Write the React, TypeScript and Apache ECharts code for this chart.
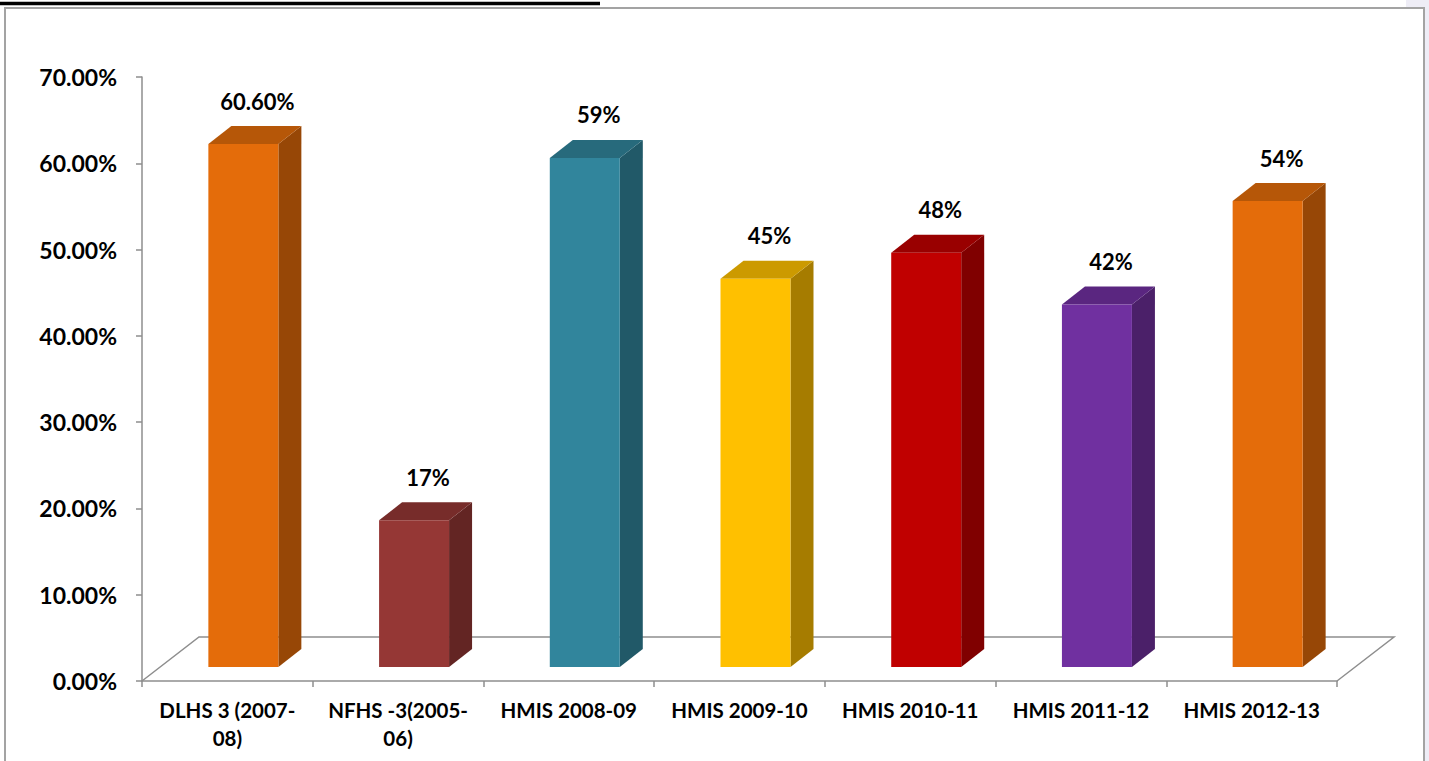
import React, { useEffect, useRef } from "react";
import * as echarts from "echarts";

const categories = [
  "DLHS 3 (2007-08)",
  "NFHS -3(2005-06)",
  "HMIS 2008-09",
  "HMIS 2009-10",
  "HMIS 2010-11",
  "HMIS 2011-12",
  "HMIS 2012-13",
];
const values = [60.6, 17, 59, 45, 48, 42, 54];
const valueLabels = ["60.60%", "17%", "59%", "45%", "48%", "42%", "54%"];
const yTicks = { min: 0, max: 70, interval: 10 };

const frontColors = ["#E46C0A", "#953735", "#31859C", "#FFC000", "#C00000", "#7030A0", "#E46C0A"];
const topColors = ["#B65708", "#772C2A", "#276A7C", "#CC9A00", "#990000", "#5A2680", "#B65708"];
const sideColors = ["#974706", "#632523", "#215968", "#A67C00", "#800000", "#4B2069", "#974706"];

const FONT = "Lato, 'Open Sans', sans-serif";
const GRAY = "#8E8E8E";

export default function App() {
  const ref = useRef<HTMLDivElement>(null);
  useEffect(() => {
    if (!ref.current) return;
    const chart = echarts.init(ref.current, null, { renderer: "svg" });

    const barData = values.map((v, i) => [i, v]);

    const option: any = {
      animation: false,
      backgroundColor: "#ffffff",
      grid: { left: 142, top: 77, width: 1195, height: 604, containLabel: false },
      xAxis: {
        type: "category",
        data: categories,
        boundaryGap: true,
        axisLine: { show: true, lineStyle: { color: GRAY, width: 1.5 } },
        axisTick: { show: true, length: 6, lineStyle: { color: GRAY, width: 1.5 } },
        axisLabel: {
          margin: 15,
          fontFamily: FONT,
          fontWeight: "bold",
          fontSize: 20.5,
          color: "#000",
          lineHeight: 28,
          interval: 0,
          formatter: (v: string) => (v.length > 14 ? v.replace(/(\(\d{4}-)/, "$1\n") : v),
        },
        splitLine: { show: false },
      },
      yAxis: {
        type: "value",
        min: yTicks.min,
        max: yTicks.max,
        interval: yTicks.interval,
        axisLine: { show: true, lineStyle: { color: GRAY, width: 1.5 } },
        axisTick: { show: true, length: 6, lineStyle: { color: GRAY, width: 1.5 } },
        splitLine: { show: false },
        axisLabel: {
          margin: 25,
          fontFamily: FONT,
          fontWeight: "bold",
          fontSize: 23,
          color: "#000",
          formatter: (v: number) => v.toFixed(2) + "%",
        },
      },
      graphic: [
        { type: "rect", shape: { x: 1406, y: 0, width: 23, height: 761 }, style: { fill: "#EEEDF6" }, z: -10 },
        { type: "line", shape: { x1: 0, y1: 3.5, x2: 600, y2: 3.5 }, style: { stroke: "#000", lineWidth: 3.5 } },
        {
          type: "rect",
          shape: { x: 5, y: 8, width: 1419, height: 780 },
          style: { fill: "#ffffff", stroke: "#A3A3A3", lineWidth: 2 },
          z: -5,
        },
      ],
      series: [
        {
          type: "custom",
          z: 1,
          silent: true,
          clip: false,
          data: [[0, 0]],
          encode: { x: 0, y: 1 },
          renderItem: (params: any, api: any) => {
            const cs = params.coordSys;
            const x0 = cs.x;
            const x1 = cs.x + cs.width;
            const yb = cs.y + cs.height;
            const dx = 57;
            const dy = -44;
            return {
              type: "polyline",
              shape: {
                points: [
                  [x0, yb],
                  [x0 + dx, yb + dy],
                  [x1 + dx, yb + dy],
                  [x1, yb],
                ],
              },
              style: { stroke: GRAY, lineWidth: 1.5, fill: "none" },
            };
          },
        },
        {
          type: "custom",
          z: 5,
          clip: false,
          data: barData,
          encode: { x: 0, y: 1 },
          renderItem: (params: any, api: any) => {
            const idx = api.value(0);
            const v = api.value(1);
            const i = params.dataIndex;
            const base = api.coord([idx, 0]);
            const top = api.coord([idx, v]);
            const bandW = api.size([1, 0])[0];
            const bw = bandW * 0.41;
            const ox = 16;
            const oy = -14;
            const dx = 23;
            const dy = -18;
            const xl = base[0] + ox - bw / 2;
            const xr = xl + bw;
            const yb = base[1] + oy;
            const yt = top[1] + oy;
            return {
              type: "group",
              children: [
                {
                  type: "polygon",
                  shape: { points: [[xr, yt], [xr + dx, yt + dy], [xr + dx, yb + dy], [xr, yb]] },
                  style: { fill: sideColors[i] },
                },
                {
                  type: "polygon",
                  shape: { points: [[xl, yt], [xr, yt], [xr + dx, yt + dy], [xl + dx, yt + dy]] },
                  style: { fill: topColors[i] },
                },
                {
                  type: "rect",
                  shape: { x: xl, y: yt, width: bw, height: yb - yt },
                  style: { fill: frontColors[i] },
                },
                {
                  type: "text",
                  x: xl + bw / 2 + 14,
                  y: yt + dy - 25,
                  style: {
                    text: valueLabels[i],
                    fontFamily: FONT,
                    fontWeight: "bold",
                    fontSize: 22,
                    fill: "#000",
                    align: "center",
                    verticalAlign: "middle",
                  },
                },
              ],
            };
          },
        },
      ],
    };
    chart.setOption(option);
    return () => chart.dispose();
  }, []);
  return (
    <div
      ref={ref}
      style={{ position: "fixed", left: 0, top: 0, width: 1429, height: 761, background: "#fff" }}
    />
  );
}
